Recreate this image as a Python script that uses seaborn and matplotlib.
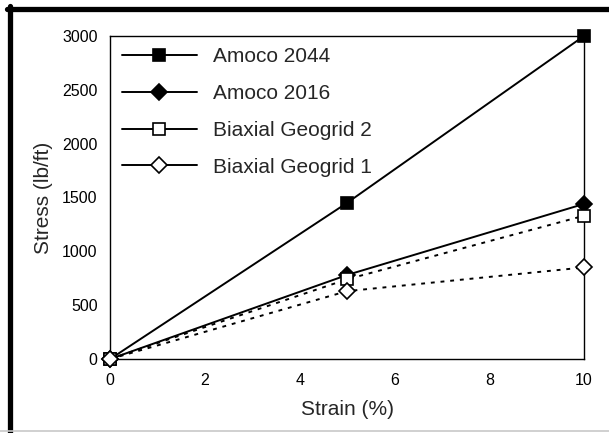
import pandas as pd
import matplotlib.pyplot as plt
import seaborn as sns
from matplotlib.lines import Line2D

# Chart values
strain = [0, 5, 10]
amoco_2044 = [0, 1450, 3000]
amoco_2016 = [0, 780, 1440]
geogrid_2 = [0, 740, 1330]
geogrid_1 = [0, 630, 850]
series_names = ["Amoco 2044", "Amoco 2016", "Biaxial Geogrid 2", "Biaxial Geogrid 1"]
x_ticks = [0, 2, 4, 6, 8, 10]
y_ticks = [0, 500, 1000, 1500, 2000, 2500, 3000]

sns.set_style("white")
plt.rcParams['font.family'] = ['Liberation Sans', 'DejaVu Sans']

rows = []
for name, vals in zip(series_names, [amoco_2044, amoco_2016, geogrid_2, geogrid_1]):
    for s, v in zip(strain, vals):
        rows.append({"Strain": s, "Stress": v, "Series": name})
df = pd.DataFrame(rows)

fig = plt.figure(figsize=(6.09, 4.33), dpi=100)
ax = fig.add_axes([0.181, 0.171, 0.778, 0.746])

styles = {
    "Amoco 2044": dict(marker="s", markersize=9, markerfacecolor="black"),
    "Amoco 2016": dict(marker="D", markersize=8, markerfacecolor="black"),
    "Biaxial Geogrid 2": dict(marker="s", markersize=9, markerfacecolor="white"),
    "Biaxial Geogrid 1": dict(marker="D", markersize=8, markerfacecolor="white"),
}
for name in series_names:
    sub = df[df["Series"] == name]
    sns.lineplot(data=sub, x="Strain", y="Stress", ax=ax, color="black", linewidth=1.4,
                 markeredgecolor="black", markeredgewidth=1.2, label=name,
                 estimator=None, sort=False, clip_on=False, zorder=3, **styles[name])

ax.set_xlim(0, 10)
ax.set_ylim(0, 3000)
ax.set_xticks(x_ticks)
ax.set_yticks(y_ticks)
ax.tick_params(direction="in", length=4, width=0.8, labelsize=11.5, colors="black")
ax.tick_params(axis="y", pad=9)
ax.tick_params(axis="x", pad=10)
for sp in ax.spines.values():
    sp.set_color("black")
    sp.set_linewidth(1.0)
ax.set_xlabel("Strain (%)", fontsize=15, labelpad=9)
ax.set_ylabel("Stress (lb/ft)", fontsize=15, labelpad=7)

leg = ax.legend(loc="upper left", frameon=False, fontsize=15, handlelength=3.6,
                handletextpad=0.8, labelspacing=0.85, borderaxespad=0.25, borderpad=0.3)

# geogrid curves are dotted in the plot but solid in the legend
for line in ax.lines[2:4]:
    line.set_linestyle((0, (2, 3)))

# outer frame of the original figure
fig.add_artist(Line2D([9.5 / 609, 9.5 / 609], [0, 1 - 6 / 433], transform=fig.transFigure,
                      color="black", linewidth=3.8))
fig.add_artist(Line2D([7 / 609, 1], [1 - 8.5 / 433, 1 - 8.5 / 433], transform=fig.transFigure,
                      color="black", linewidth=3.8))
fig.add_artist(Line2D([0, 1], [2 / 433, 2 / 433], transform=fig.transFigure,
                      color="#c8c8c8", linewidth=1.2))

fig.savefig("out.png", dpi=100)
